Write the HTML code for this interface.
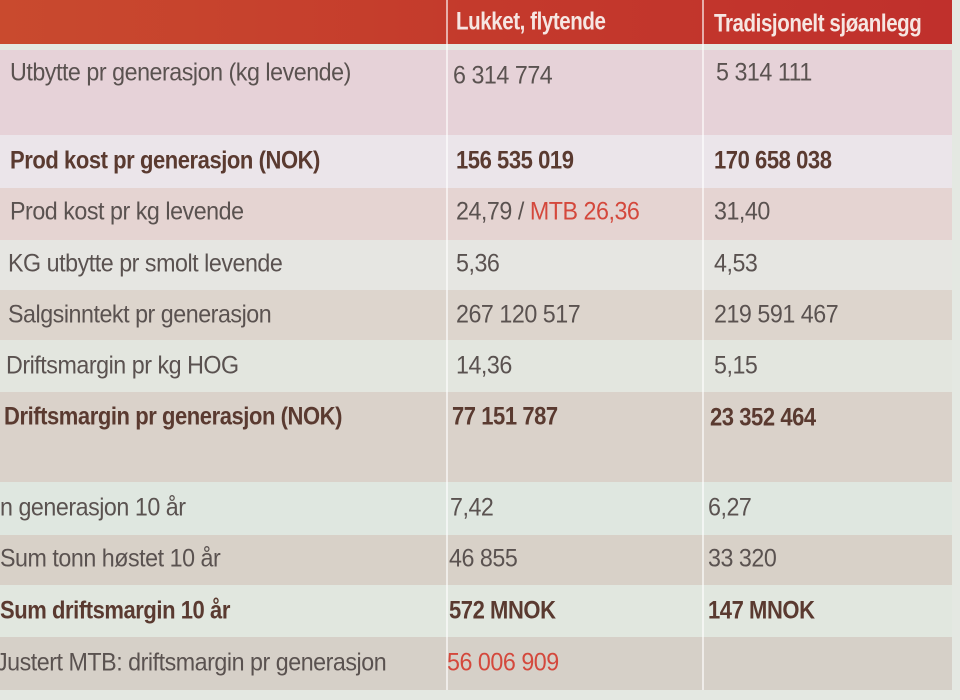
<!DOCTYPE html>
<html><head><meta charset="utf-8"><style>
body{margin:0;width:960px;height:700px;overflow:hidden;background:#e4e8e2;position:relative;font-family:"Liberation Sans",sans-serif;}
.r{position:absolute;left:0;width:952px;}
.c{position:absolute;top:0;bottom:0;border-left:2px solid rgba(255,255,255,0.6);}
.t{position:absolute;font-size:25px;color:#5a5250;white-space:nowrap;transform:translateY(-50%) scaleX(0.93);transform-origin:left center;letter-spacing:-0.5px}
.b{font-weight:bold;color:#5a3a30;transform:translateY(-50%) scaleX(0.88)}
.h{color:#f6e6e2;font-weight:bold;font-size:25px;transform:translateY(-50%) scaleX(0.82)}
.red{color:#d4483c}
</style></head><body>
<div class="r" style="top:0;height:44px;background:linear-gradient(90deg,#c94a2e,#c43a2c 50%,#c0302c)"></div>
<div class="r" style="top:50px;height:85px;background:#e6d2d8"></div>
<div class="r" style="top:135px;height:53px;background:#ebe5ea"></div>
<div class="r" style="top:188px;height:52px;background:#e5d4d2"></div>
<div class="r" style="top:240px;height:50px;background:#e6e6e2"></div>
<div class="r" style="top:290px;height:50px;background:#ddd5cd"></div>
<div class="r" style="top:340px;height:52px;background:#e3e6df"></div>
<div class="r" style="top:392px;height:90px;background:#dad2ca"></div>
<div class="r" style="top:482px;height:53px;background:#dfe7e0"></div>
<div class="r" style="top:535px;height:50px;background:#d8d1c8"></div>
<div class="r" style="top:585px;height:52px;background:#e1e7df"></div>
<div class="r" style="top:637px;height:53px;background:#d6d0c8"></div>
<div class="c" style="left:446px;top:0;height:690px"></div>
<div class="c" style="left:702px;top:0;height:690px"></div>

<div class="t h" style="left:456px;top:22px">Lukket, flytende</div>
<div class="t h" style="left:714px;top:24px">Tradisjonelt sjøanlegg</div>

<div class="t" style="left:10px;top:73px">Utbytte pr generasjon (kg levende)</div>
<div class="t" style="left:453px;top:76px">6 314 774</div>
<div class="t" style="left:716px;top:73px">5 314 111</div>

<div class="t b" style="left:10px;top:161px">Prod kost pr generasjon (NOK)</div>
<div class="t b" style="left:456px;top:161px">156 535 019</div>
<div class="t b" style="left:714px;top:161px">170 658 038</div>

<div class="t" style="left:10px;top:212px">Prod kost pr kg levende</div>
<div class="t" style="left:456px;top:212px">24,79 / <span class="red">MTB 26,36</span></div>
<div class="t" style="left:714px;top:212px">31,40</div>

<div class="t" style="left:8px;top:264px">KG utbytte pr smolt levende</div>
<div class="t" style="left:456px;top:264px">5,36</div>
<div class="t" style="left:714px;top:264px">4,53</div>

<div class="t" style="left:8px;top:315px">Salgsinntekt pr generasjon</div>
<div class="t" style="left:456px;top:315px">267 120 517</div>
<div class="t" style="left:714px;top:315px">219 591 467</div>

<div class="t" style="left:6px;top:366px">Driftsmargin pr kg HOG</div>
<div class="t" style="left:456px;top:366px">14,36</div>
<div class="t" style="left:714px;top:366px">5,15</div>

<div class="t b" style="left:4px;top:417px">Driftsmargin pr generasjon (NOK)</div>
<div class="t b" style="left:452px;top:417px">77 151 787</div>
<div class="t b" style="left:710px;top:418px">23 352 464</div>

<div class="t" style="left:0px;top:508px">n generasjon 10 år</div>
<div class="t" style="left:450px;top:508px">7,42</div>
<div class="t" style="left:708px;top:508px">6,27</div>

<div class="t" style="left:0px;top:559px">Sum tonn høstet 10 år</div>
<div class="t" style="left:449px;top:559px">46 855</div>
<div class="t" style="left:708px;top:559px">33 320</div>

<div class="t b" style="left:0px;top:611px">Sum driftsmargin 10 år</div>
<div class="t b" style="left:449px;top:611px">572 MNOK</div>
<div class="t b" style="left:708px;top:611px">147 MNOK</div>

<div class="t" style="left:-4px;top:663px">Justert MTB: driftsmargin pr generasjon</div>
<div class="t red" style="left:447px;top:663px">56 006 909</div>
</body></html>
